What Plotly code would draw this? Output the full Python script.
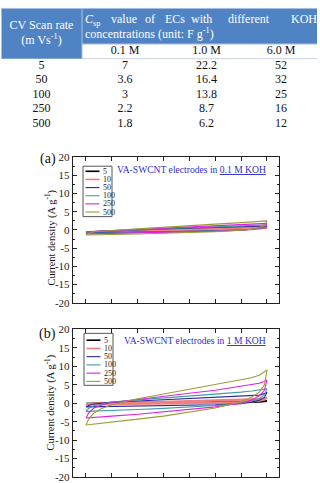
import plotly.graph_objects as go

W, H = 320, 483

# ---------------- table data ----------------
scan_rates = [5, 50, 100, 250, 500]
concentrations = ["0.1 M", "1.0 M", "6.0 M"]
csp_01M = [7, 3.6, 3, 2.2, 1.8]
csp_10M = [22.2, 16.4, 13.8, 8.7, 6.2]
csp_60M = [52, 32, 25, 16, 12]
header_rate = ["CV Scan rate", "(m Vs<sup>-1</sup>)"]
header_words = ["<i>C</i><sub>sp</sub>", "value", "of", "ECs", "with", "different", "KOH"]
header_line2 = "concentrations (unit: F g<sup>-1</sup>)"

# ---------------- CV data ----------------
potential = [0.0, 0.01, 0.03, 0.06, 0.1, 0.2, 0.3, 0.4, 0.5, 0.6, 0.64, 0.67, 0.69, 0.7]
cv_rates = ["5", "10", "50", "100", "250", "500"]

# (a) 0.1 M KOH : forward (anodic) and reverse (cathodic) currents, A/g
a_fwd_5 = [-0.6, -0.55, -0.5, -0.45, -0.4, -0.2, 0.0, 0.2, 0.35, 0.55, 0.6, 0.65, 0.7, 0.7]
a_rev_5 = [-0.6, -0.6, -0.6, -0.6, -0.55, -0.45, -0.35, -0.25, -0.1, 0.15, 0.3, 0.4, 0.55, 0.7]
a_fwd_10 = [-0.7, -0.6, -0.5, -0.45, -0.4, -0.15, 0.05, 0.25, 0.45, 0.65, 0.72, 0.78, 0.8, 0.8]
a_rev_10 = [-0.7, -0.7, -0.7, -0.7, -0.65, -0.55, -0.45, -0.35, -0.2, 0.05, 0.2, 0.35, 0.55, 0.8]
a_fwd_50 = [-0.8, -0.6, -0.45, -0.35, -0.3, 0.0, 0.25, 0.5, 0.7, 0.9, 1.0, 1.05, 1.1, 1.1]
a_rev_50 = [-0.8, -0.8, -0.8, -0.75, -0.7, -0.6, -0.5, -0.4, -0.25, 0.0, 0.2, 0.4, 0.65, 1.1]
a_fwd_100 = [-0.9, -0.6, -0.45, -0.35, -0.25, 0.05, 0.35, 0.6, 0.85, 1.1, 1.2, 1.3, 1.35, 1.4]
a_rev_100 = [-0.9, -0.9, -0.9, -0.85, -0.8, -0.7, -0.6, -0.45, -0.3, 0.0, 0.2, 0.45, 0.75, 1.4]
a_fwd_250 = [-1.1, -0.7, -0.45, -0.3, -0.2, 0.15, 0.5, 0.8, 1.1, 1.4, 1.55, 1.65, 1.75, 1.8]
a_rev_250 = [-1.1, -1.1, -1.05, -1.0, -0.95, -0.85, -0.7, -0.55, -0.35, -0.05, 0.2, 0.5, 0.9, 1.8]
a_fwd_500 = [-1.4, -0.9, -0.5, -0.3, -0.15, 0.3, 0.8, 1.2, 1.6, 2.0, 2.2, 2.35, 2.45, 2.5]
a_rev_500 = [-1.4, -1.4, -1.35, -1.3, -1.25, -1.1, -0.95, -0.75, -0.5, -0.1, 0.2, 0.6, 1.2, 2.5]

# (b) 1 M KOH
b_fwd_5 = [-0.1, -0.05, 0.0, 0.05, 0.1, 0.15, 0.2, 0.25, 0.3, 0.4, 0.45, 0.5, 0.5, 0.55]
b_rev_5 = [-0.1, -0.1, -0.1, -0.1, -0.05, 0.0, 0.05, 0.1, 0.15, 0.25, 0.3, 0.35, 0.45, 0.55]
b_fwd_10 = [-0.3, -0.2, -0.1, 0.0, 0.1, 0.25, 0.4, 0.55, 0.7, 0.9, 1.0, 1.1, 1.3, 1.5]
b_rev_10 = [-0.3, -0.3, -0.3, -0.3, -0.25, -0.2, -0.1, 0.0, 0.1, 0.3, 0.5, 0.7, 1.0, 1.5]
b_fwd_50 = [-1.0, -0.6, -0.2, 0.0, 0.3, 0.6, 0.9, 1.2, 1.5, 1.8, 2.0, 2.2, 2.6, 3.0]
b_rev_50 = [-1.0, -1.0, -0.9, -0.9, -0.8, -0.7, -0.6, -0.5, -0.4, -0.1, 0.3, 0.8, 1.5, 3.0]
b_fwd_100 = [-2.2, -1.4, -0.7, -0.2, 0.3, 0.9, 1.4, 1.9, 2.4, 3.0, 3.3, 3.5, 3.7, 3.9]
b_rev_100 = [-2.2, -2.2, -2.2, -2.1, -2.0, -1.7, -1.4, -1.1, -0.6, 0.0, 0.6, 1.3, 2.2, 3.9]
b_fwd_250 = [-4.0, -2.7, -1.3, -0.5, 0.2, 1.1, 1.9, 2.7, 3.5, 4.5, 5.0, 5.4, 5.9, 6.3]
b_rev_250 = [-4.0, -4.0, -3.9, -3.7, -3.5, -3.0, -2.4, -1.7, -1.0, 0.0, 0.9, 2.0, 3.5, 6.3]
b_fwd_500 = [-5.9, -4.3, -2.7, -1.4, -0.4, 1.2, 2.5, 3.8, 5.0, 6.3, 6.9, 7.6, 8.4, 9.0]
b_rev_500 = [-5.9, -5.8, -5.6, -5.3, -5.0, -4.3, -3.5, -2.5, -1.3, 0.4, 1.6, 3.0, 5.0, 9.0]

y_tickvals = [-20, -15, -10, -5, 0, 5, 10, 15, 20]
y_ticktext = ["-20", "-15", "-10", "-5", "0", "5", "10", "15", "20"]
x_tickvals = [0.0, 0.1, 0.2, 0.3, 0.4, 0.5, 0.6, 0.7]

# ---------------- styles / layout constants ----------------
SERIF = "Liberation Serif, Times New Roman, serif"
HEAD_BLUE = "#5083c4"
HEAD_LINE = "#a9c1e3"
cv_colors = ["#000000", "#f08080", "#2a2a9c", "#3f9f9f", "#e020e0", "#9c9c38"]
cv_widths = [1.6, 2.2, 1.1, 1.1, 1.1, 1.1]

col_edges = [1, 82, 168, 245, 317]
row_top, head_bottom, sub_bottom, row_h = 2, 39, 54, 14.8


def PX(x):
    return x / W


def PY(y):
    return 1 - y / H


fig = go.Figure()
shapes = []
annotations = []

# ================= TABLE (drawn on a hidden pixel-scaled axis pair) =================
TX, TY = "x3", "y3"
shapes.append(dict(type="rect", xref=TX, yref=TY, x0=col_edges[0], x1=col_edges[-1],
                   y0=row_top, y1=head_bottom, fillcolor=HEAD_BLUE, line_width=0, layer="below"))
shapes.append(dict(type="rect", xref=TX, yref=TY, x0=col_edges[0], x1=col_edges[1],
                   y0=row_top, y1=sub_bottom, fillcolor=HEAD_BLUE, line_width=0, layer="below"))
for (x0, y0, x1, y1, c) in [
    (col_edges[0], row_top + 0.5, col_edges[-1], row_top + 0.5, HEAD_LINE),
    (col_edges[1], row_top, col_edges[1], sub_bottom, HEAD_LINE),
    (col_edges[1], head_bottom, col_edges[-1], head_bottom, HEAD_LINE),
    (col_edges[0] + 0.5, row_top, col_edges[0] + 0.5, sub_bottom, HEAD_LINE),
    (col_edges[1], sub_bottom, col_edges[-1], sub_bottom, "#c9d3e0"),
]:
    shapes.append(dict(type="line", xref=TX, yref=TY, x0=x0, y0=y0, x1=x1, y1=y1,
                       line=dict(color=c, width=1)))

col_centers = [(col_edges[i] + col_edges[i + 1]) / 2 for i in range(4)]
col_centers[0] = 41.5

fig.add_trace(go.Scatter(x=[col_centers[0]] * 2, y=[21.0, 36.0], text=header_rate,
                         mode="text", textfont=dict(family=SERIF, size=12, color="white"),
                         xaxis=TX, yaxis=TY, showlegend=False, hoverinfo="skip"))
word_x = [85, 111, 145, 165, 191, 228, 291]
fig.add_trace(go.Scatter(x=word_x, y=[14.5] * len(header_words), text=header_words,
                         mode="text", textposition="middle right",
                         textfont=dict(family=SERIF, size=12, color="white"),
                         xaxis=TX, yaxis=TY, showlegend=False, hoverinfo="skip"))
fig.add_trace(go.Scatter(x=[85], y=[29.5], text=[header_line2],
                         mode="text", textposition="middle right",
                         textfont=dict(family=SERIF, size=12, color="white"),
                         xaxis=TX, yaxis=TY, showlegend=False, hoverinfo="skip"))
fig.add_trace(go.Scatter(x=col_centers[1:], y=[(head_bottom + sub_bottom) / 2] * 3,
                         text=concentrations, mode="text",
                         textfont=dict(family=SERIF, size=12, color="#111111"),
                         xaxis=TX, yaxis=TY, showlegend=False, hoverinfo="skip"))
row_centers = [sub_bottom + row_h * (i + 0.5) for i in range(len(scan_rates))]
for ci, col in enumerate([scan_rates, csp_01M, csp_10M, csp_60M]):
    fig.add_trace(go.Scatter(x=[col_centers[ci]] * len(col), y=row_centers,
                             text=[str(v) for v in col], mode="text",
                             textfont=dict(family=SERIF, size=12, color="#111111"),
                             xaxis=TX, yaxis=TY, showlegend=False, hoverinfo="skip"))

# ================= CV PLOTS =================
panels = [
    dict(xa="x", ya="y", fwd=[a_fwd_5, a_fwd_10, a_fwd_50, a_fwd_100, a_fwd_250, a_fwd_500],
         rev=[a_rev_5, a_rev_10, a_rev_50, a_rev_100, a_rev_250, a_rev_500],
         label="(a)", label_y=157, conc="0.1 M KOH", title_y=167.7,
         leg_top=164.3, leg_bot=216.0, leg_first=169.5, leg_step=8.35, leg_x=83, ytitle=237.5),
    dict(xa="x2", ya="y2", fwd=[b_fwd_5, b_fwd_10, b_fwd_50, b_fwd_100, b_fwd_250, b_fwd_500],
         rev=[b_rev_5, b_rev_10, b_rev_50, b_rev_100, b_rev_250, b_rev_500],
         label="(b)", label_y=336, conc="1 M KOH", title_y=343.5,
         leg_top=335.7, leg_bot=389.0, leg_first=342.7, leg_step=8.45, leg_x=84, ytitle=406.5),
]

for p in panels:
    for i, rate in enumerate(cv_rates):
        xs = potential + potential[::-1]
        ys = p["fwd"][i] + p["rev"][i][::-1]
        fig.add_trace(go.Scatter(x=xs, y=ys, mode="lines", name=rate,
                                 line=dict(color=cv_colors[i], width=cv_widths[i]),
                                 xaxis=p["xa"], yaxis=p["ya"], showlegend=False,
                                 hoverinfo="skip"))
    lx = p["leg_x"]
    shapes.append(dict(type="rect", xref="paper", yref="paper", x0=PX(lx), x1=PX(lx + 29),
                       y0=PY(p["leg_bot"]), y1=PY(p["leg_top"]),
                       line=dict(color="#555555", width=1), fillcolor="rgba(0,0,0,0)"))
    for i, rate in enumerate(cv_rates):
        yy = p["leg_first"] + i * p["leg_step"]
        shapes.append(dict(type="line", xref="paper", yref="paper", x0=PX(lx + 2.5),
                           x1=PX(lx + 16.5), y0=PY(yy), y1=PY(yy),
                           line=dict(color=cv_colors[i], width=min(cv_widths[i], 1.6))))
        annotations.append(dict(xref="paper", yref="paper", x=PX(lx + 17.5), y=PY(yy),
                                text=rate, showarrow=False, xanchor="left", yanchor="middle",
                                font=dict(family=SERIF, size=8, color="#222222")))
    annotations.append(dict(xref="paper", yref="paper", x=PX(47.5), y=PY(p["label_y"]),
                            text=p["label"], showarrow=False, xanchor="center", yanchor="middle",
                            font=dict(family=SERIF, size=14, color="#111111")))
    annotations.append(dict(xref="paper", yref="paper", x=PX(267.5), y=PY(p["title_y"]),
                            text="VA-SWCNT electrodes in <u>" + p["conc"] + "</u>",
                            showarrow=False, xanchor="right", yanchor="middle",
                            font=dict(family=SERIF, size=9.6, color="#3030c8")))
    annotations.append(dict(xref="paper", yref="paper", x=PX(50), y=PY(p["ytitle"]),
                            text="Current density (A g<sup>-1</sup>)", textangle=-90,
                            showarrow=False, xanchor="center", yanchor="middle",
                            font=dict(family=SERIF, size=10.5, color="#111111")))

xdom = [PX(72.8), PX(278.5)]
xrange_ = [-0.051, 0.7445]
minor_y = [v + 2.5 for v in y_tickvals[:-1]]


def xax(anchor):
    return dict(domain=xdom, range=xrange_, anchor=anchor, showgrid=False, zeroline=False,
                showline=True, linecolor="#222222", linewidth=1, mirror="ticks",
                ticks="inside", ticklen=4, tickcolor="#222222", tickmode="array",
                tickvals=x_tickvals, showticklabels=False, fixedrange=True)


def yax(anchor, dom):
    return dict(domain=dom, range=[-20, 20], anchor=anchor, showgrid=False, zeroline=False,
                showline=True, linecolor="#222222", linewidth=1, mirror="ticks",
                ticks="inside", ticklen=4, tickcolor="#222222", tickmode="array",
                tickvals=y_tickvals, ticktext=y_ticktext,
                tickfont=dict(family=SERIF, size=11, color="#222222"),
                minor=dict(tickmode="array", tickvals=minor_y, ticks="inside", ticklen=2,
                           tickcolor="#222222"),
                fixedrange=True)


fig.update_layout(
    width=W, height=H, margin=dict(l=0, r=0, t=0, b=0),
    paper_bgcolor="white", plot_bgcolor="white", showlegend=False,
    xaxis=xax("y"), yaxis=yax("x", [PY(304.3), PY(155.0)]),
    xaxis2=xax("y2"), yaxis2=yax("x2", [0, PY(331.7)]),
    xaxis3=dict(domain=[0, 1], range=[0, W], visible=False, anchor="y3", fixedrange=True),
    yaxis3=dict(domain=[PY(133), 1], range=[133, 0], visible=False, anchor="x3", fixedrange=True),
    shapes=shapes, annotations=annotations,
)

fig.write_html("out.html")
